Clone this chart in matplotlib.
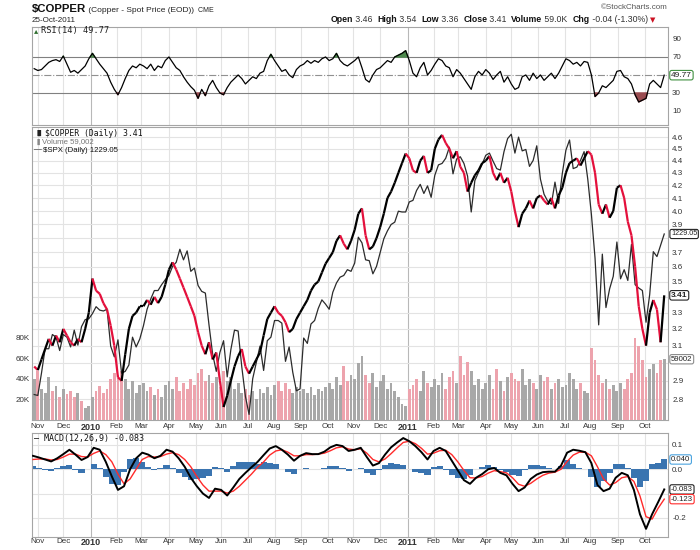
import numpy as np
import pandas as pd
import matplotlib
matplotlib.use('Agg')
import matplotlib.pyplot as plt
import matplotlib.transforms as mtransforms
from matplotlib.collections import LineCollection
from matplotlib.ticker import FixedLocator, FixedFormatter, NullLocator

plt.rcParams['font.family'] = 'Liberation Sans'

# values, one sample every 3rd trading day from 28-Oct-2009
copper = [
    2.98,
    2.96, 3.02, 3.08, 3.14, 3.10, 3.16, 3.12,
    3.20, 3.16, 3.12, 3.10, 3.14, 3.12, 3.20, 3.30,
    3.52, 3.44, 3.42, 3.36, 3.32, 3.22, 3.10,
    2.92, 2.90, 3.05, 3.20, 3.28, 3.30, 3.34,
    3.34, 3.38, 3.35, 3.40, 3.36, 3.40, 3.48,
    3.58, 3.63, 3.58, 3.52, 3.46, 3.40, 3.34, 3.28,
    3.18, 3.10, 3.05, 3.12, 3.02, 3.06, 2.90,
    2.76, 2.82, 2.90, 2.98, 3.04, 3.08, 2.98,
    2.94, 2.98, 3.02, 3.06, 3.16, 3.26, 3.30,
    3.34, 3.30, 3.28, 3.24, 3.18, 3.20, 3.26, 3.30,
    3.34, 3.38, 3.44, 3.48, 3.50, 3.56, 3.62,
    3.66, 3.70, 3.78, 3.82, 3.76, 3.72, 3.78,
    3.86, 3.98, 4.02, 3.82, 3.72, 3.74, 3.80,
    3.88, 3.98, 4.10, 4.15, 4.22, 4.30, 4.38, 4.46,
    4.42, 4.32, 4.30, 4.40, 4.44, 4.30, 4.32,
    4.50, 4.58, 4.62, 4.55, 4.50, 4.42, 4.48,
    4.35, 4.30, 4.15, 4.22, 4.28, 4.32, 4.38,
    4.40, 4.44, 4.30, 4.24, 4.30, 4.22, 4.26,
    4.15, 4.00, 3.88, 3.98, 4.02, 4.08, 4.02, 4.10,
    4.12, 4.08, 4.05, 4.10, 4.02, 4.12, 4.18,
    4.30, 4.38, 4.40, 4.42, 4.36, 4.42, 4.48,
    4.45, 4.30, 4.05, 3.98, 4.05, 3.95, 4.00, 4.18,
    4.20, 4.10, 3.92, 3.82, 3.60, 3.34, 3.20,
    3.10, 3.30, 3.38, 3.32, 3.12, 3.41,
]
spx = [
    1043,
    1042, 1066, 1093, 1093, 1109, 1106, 1091,
    1109, 1106, 1095, 1114, 1097, 1118, 1126, 1127,
    1133, 1141, 1137, 1136, 1138, 1096, 1084,
    1103, 1066, 1068, 1075, 1106, 1095, 1104,
    1119, 1138, 1150, 1160, 1160, 1167, 1173,
    1178, 1189, 1194, 1210, 1197, 1208, 1183, 1187,
    1166, 1159, 1157, 1120, 1087, 1068, 1089,
    1102, 1062, 1092, 1114, 1113, 1073, 1041,
    1022, 1060, 1078, 1096, 1069, 1102, 1106,
    1125, 1125, 1122, 1079, 1095, 1067, 1047, 1049,
    1105, 1099, 1121, 1125, 1139, 1149, 1144,
    1138, 1158, 1169, 1176, 1178, 1185, 1183,
    1193, 1225, 1218, 1197, 1196, 1180, 1189,
    1206, 1223, 1233, 1241, 1244, 1258, 1257, 1257,
    1270, 1272, 1285, 1293, 1281, 1291, 1276,
    1305, 1319, 1321, 1328, 1343, 1307, 1327,
    1330, 1321, 1304, 1257, 1298, 1309, 1320,
    1332, 1335, 1324, 1314, 1312, 1337, 1355,
    1361, 1335, 1357, 1338, 1340, 1317, 1325, 1345,
    1300, 1280, 1271, 1267, 1296, 1268, 1307,
    1339, 1353, 1314, 1316, 1325, 1337, 1300,
    1254, 1199, 1120, 1204, 1140, 1162, 1177, 1219,
    1174, 1185, 1172, 1216, 1167, 1163, 1160,
    1123, 1155, 1207, 1201, 1215, 1229.05,
]
volume_k = [
    40,
    48, 30, 26, 42, 28, 33, 22,
    30, 25, 28, 22, 26, 18, 12, 14,
    22, 28, 33, 26, 30, 40, 46,
    44, 48, 40, 30, 38, 26, 34,
    36, 28, 32, 24, 30, 22, 34,
    38, 30, 42, 28, 36, 30, 40, 34,
    46, 50, 38, 44, 36, 42, 32,
    48, 38, 42, 30, 36, 26, 30,
    24, 28, 20, 30, 26, 32, 24,
    34, 38, 28, 36, 30, 26, 32, 28,
    30, 26, 32, 24, 30, 28, 32,
    36, 30, 42, 34, 52, 38, 44,
    40, 55, 62, 44, 36, 46, 32,
    38, 44, 30, 36, 28, 22, 16, 14,
    30, 34, 40, 28, 48, 36, 32,
    40, 34, 46, 30, 42, 48, 36,
    62, 44, 56, 48, 34, 40, 30,
    36, 44, 30, 50, 38, 28, 42,
    46, 40, 38, 50, 34, 40, 36, 30,
    44, 38, 42, 30, 36, 40, 32,
    34, 46, 40, 30, 36, 28, 26,
    70, 58, 44, 36, 40, 30, 34, 28,
    36, 30, 40, 46, 80, 72, 58,
    42, 50, 54, 46, 58, 59.0,
]
rsi = [
    57,
    55, 56, 60, 64, 66, 67, 65,
    71, 62, 53, 55, 52, 56, 60, 68,
    74, 68, 62, 57, 52, 42, 34,
    28, 36, 46, 55, 60, 58, 62,
    60, 57, 62, 55, 60, 58, 66,
    70, 64, 58, 55, 48, 42, 37, 33,
    24, 34, 27, 38, 44, 36, 30,
    28, 36, 42, 46, 50, 46, 40,
    44, 48, 46, 52, 54, 66, 73,
    66, 60, 54, 56, 50, 47, 56, 60,
    62, 66, 63, 66, 64, 68, 70,
    66, 68, 74, 66, 62, 60, 63,
    66, 70, 58, 45, 42, 50, 56,
    58, 62, 66, 64, 70, 72, 74, 77,
    66, 52, 48, 58, 64, 50, 55,
    62, 68, 66, 60, 58, 48, 56,
    52, 46, 40, 34, 48, 54, 50,
    56, 52, 45, 50, 54, 42, 48,
    40, 34, 36, 48, 50, 44, 52, 46,
    50, 44, 48, 52, 46, 52, 60,
    68, 66, 62, 64, 60, 65, 64,
    50, 26, 30, 38, 36, 40, 44, 54,
    55, 48, 46, 40, 28, 20, 22,
    24, 40, 44, 40, 36, 49.77,
]
# MACD(12,26,9) and its signal line, one sample per week from 27-Oct-2009
macd = [
    .055, .048, .040, .032, .045, .062, .080, .060, .038, .050,
    .088, .080, .030, -.030, -.085, -.070, .000, .045, .068, .060,
    .045, .055, .080, .072, .045, .010, -.035, -.070, -.100, -.118,
    -.080, -.085, -.108, -.075, -.040, -.015, .008, .030, .058, .085,
    .095, .080, .060, .035, .055, .066, .062, .062, .072, .090,
    .100, .095, .075, .080, .088, .050, .015, .025, .060, .090,
    .110, .128, .115, .095, .070, .040, .075, .088, .075, .035,
    -.005, -.045, -.060, -.035, -.020, .000, .005, -.015, -.025, -.060,
    -.090, -.075, -.040, -.022, -.012, -.010, -.010, .015, .068, .080,
    .076, .070, .025, -.065, -.090, -.080, -.035, -.015, -.025, -.085,
    -.185, -.245, -.185, -.135, -.083,
]
signal = [
    .040, .042, .042, .038, .040, .050, .062, .062, .052, .050,
    .065, .075, .060, .030, -.020, -.060, -.040, .000, .040, .052,
    .050, .052, .062, .068, .060, .040, .010, -.030, -.065, -.090,
    -.090, -.090, -.098, -.090, -.070, -.045, -.020, .008, .030, .058,
    .075, .080, .070, .055, .055, .060, .060, .062, .066, .076,
    .088, .092, .083, .080, .084, .066, .040, .030, .042, .064,
    .088, .110, .115, .105, .086, .062, .066, .076, .078, .060,
    .030, -.005, -.035, -.036, -.030, -.016, -.006, -.010, -.015, -.035,
    -.062, -.070, -.058, -.040, -.025, -.016, -.012, .000, .032, .058,
    .070, .070, .055, .010, -.040, -.065, -.055, -.035, -.030, -.050,
    -.110, -.195, -.205, -.160, -.123,
]

dates = pd.bdate_range('2009-10-27', '2011-10-25')
n = len(dates)
pos = np.arange(1, n, 3)
wpos = np.arange(0, n, 5)
copper = np.array(copper)
spx = np.array(spx)
volume_k = np.array(volume_k)
rsi = np.array(rsi)
macd = np.array(macd)
signal = np.array(signal)
hist = macd - signal

month_idx = [k for k in range(1, n) if dates[k].month != dates[k - 1].month]
month_lab = [dates[k].strftime('%Y') if dates[k].month == 1 else dates[k].strftime('%b')
             for k in month_idx]

GRID = '#e3e3e3'
YEAR = '#b8b8b8'
SPINE = '#a5a5a5'
TXT = '#333333'
RED = '#e4103c'

fig = plt.figure(figsize=(7, 5.5), dpi=100)


def rect(top, bottom):
    return [32 / 700, 1 - bottom / 550, 636 / 700, (bottom - top) / 550]


def style(ax):
    for s in ax.spines.values():
        s.set_color(SPINE)
        s.set_linewidth(0.8)
    ax.tick_params(length=0, labelsize=5.8, colors=TXT)
    for k, lab in zip(month_idx, month_lab):
        ax.axvline(k, color=YEAR if lab.isdigit() else GRID, lw=0.8, zorder=0)


def tag(ax, y, s, ec, bold=False, size=6):
    tr = mtransforms.blended_transform_factory(ax.transAxes, ax.transData)
    ax.text(1 + 3 / 636, y, s, transform=tr, ha='left', va='center', fontsize=size,
            color='#222222', fontweight='bold' if bold else 'normal', clip_on=False, zorder=10,
            bbox=dict(boxstyle='round,pad=0.15,rounding_size=0.25', fc='white', ec=ec, lw=0.8))


# ---- RSI panel ----
ax_rsi = fig.add_axes(rect(27, 125))
ax_main = fig.add_axes(rect(127, 420), sharex=ax_rsi)
ax_vol = fig.add_axes(rect(127, 420), sharex=ax_rsi)
ax_spx = fig.add_axes(rect(127, 420), sharex=ax_rsi)
ax_cu = fig.add_axes(rect(127, 420), sharex=ax_rsi)
ax_macd = fig.add_axes(rect(433, 537), sharex=ax_rsi)
ax_main.set_zorder(1)
ax_vol.set_zorder(2)
ax_spx.set_zorder(3)
ax_cu.set_zorder(4)

style(ax_rsi)
ax_rsi.plot(pos, rsi, color='black', lw=0.9, zorder=3)
ax_rsi.axhline(70, color='#808080', lw=0.8, zorder=1)
ax_rsi.axhline(30, color='#808080', lw=0.8, zorder=1)
ax_rsi.axhline(50, color='#909090', lw=0.8, ls='-.', zorder=1)
ax_rsi.fill_between(pos, rsi, 70, where=rsi > 70, interpolate=True, color='#4c8a4c', zorder=2)
ax_rsi.fill_between(pos, rsi, 30, where=rsi < 30, interpolate=True, color='#9a4b50', zorder=2)
ax_rsi.set_ylim(-5.6, 103.3)
ax_rsi.set_xlim(-0.8, 523.1)
ax_rsi.yaxis.tick_right()
ax_rsi.set_yticks([10, 30, 70, 90])
ax_rsi.tick_params(axis='y', pad=3)
ax_rsi.tick_params(axis='x', labelbottom=False)
tag(ax_rsi, rsi[-1], '49.77', '#3f8f3f')

# ---- price panel ----
style(ax_main)
ax_main.set_yscale('log')
ax_main.set_ylim(2.693, 4.69)
pticks = [round(2.8 + 0.1 * k, 1) for k in range(19)]
for t in pticks:
    ax_main.axhline(t, color=GRID, lw=0.8, zorder=0)
# labels hidden under the value tags are left blank
plabels = ['' if t in (3.0, 3.4, 3.8) else f'{t:.1f}' for t in pticks]
ax_main.yaxis.set_major_locator(FixedLocator(pticks))
ax_main.yaxis.set_major_formatter(FixedFormatter(plabels))
ax_main.yaxis.set_minor_locator(NullLocator())
ax_main.yaxis.tick_right()
ax_main.tick_params(axis='y', pad=3)
ax_main.set_xticks(month_idx, labels=month_lab)
ax_main.tick_params(axis='x', pad=2)

vcols = ['#a8a8a8'] + [('#eda3ad' if copper[k] < copper[k - 1] else '#a8a8a8')
                       for k in range(1, len(copper))]
ax_vol.bar(pos, volume_k, width=2.3, color=vcols, linewidth=0)
ax_vol.set_ylim(0, 284.5)
ax_vol.patch.set_visible(False)
for s in ax_vol.spines.values():
    s.set_visible(False)
ax_vol.set_yticks([20, 40, 60, 80], labels=['20K', '40K', '60K', '80K'])
ax_vol.tick_params(length=0, labelsize=5.8, colors=TXT, pad=1.5, labelbottom=False)
tag(ax_vol, volume_k[-1], '59002', '#8c8c8c', size=5.6)

ax_spx.plot(pos, spx, color='#2b2b2b', lw=0.9)
ax_spx.set_yscale('log')
ax_spx.set_ylim(1016.2, 1371.1)
ax_spx.axis('off')
tag(ax_spx, spx[-1], '1229.05', '#222222', size=5.2)

segs = [[(pos[k - 1], copper[k - 1]), (pos[k], copper[k])] for k in range(1, len(copper))]
ccols = [RED if copper[k] < copper[k - 1] else 'black' for k in range(1, len(copper))]
ax_cu.add_collection(LineCollection(segs, colors=ccols, linewidths=1.6))
ax_cu.set_yscale('log')
ax_cu.set_ylim(2.693, 4.69)
ax_cu.axis('off')
tag(ax_cu, copper[-1], '3.41', '#222222', bold=True)

# ---- MACD panel ----
style(ax_macd)
for t in [0.1, 0.0, -0.1, -0.2]:
    ax_macd.axhline(t, color=GRID, lw=0.8, zorder=0)
ax_macd.bar(wpos, hist, width=5, color='#3a74b0', linewidth=0, zorder=2)
ax_macd.plot(wpos, signal, color='#ff2a2a', lw=1.0, zorder=3)
ax_macd.plot(wpos, macd, color='black', lw=1.4, zorder=4)
ax_macd.set_ylim(-0.2785, 0.1488)
ax_macd.yaxis.tick_right()
ax_macd.set_yticks([0.1, 0.0, -0.2], labels=['0.1', '0.0', '-0.2'])
ax_macd.tick_params(axis='y', pad=3)
ax_macd.tick_params(axis='x', pad=1, labelbottom=True)
tag(ax_macd, hist[-1], '0.040', '#4aa3df', size=5.6)
tag(ax_macd, macd[-1], '-0.083', '#222222', size=5.6)
tag(ax_macd, signal[-1], '-0.123', '#ff2a2a', size=5.6)

for ax in (ax_main, ax_macd):
    for tk, lab in zip(ax.xaxis.get_major_ticks(), month_lab):
        if lab.isdigit():
            tk.label1.set_fontweight('bold')
            tk.label1.set_fontsize(6.5)

# ---- texts ----
def fxy(x, y):
    return x / 700, 1 - y / 550


def chain(pieces, x, y, ha_first='left'):
    txt, kw = pieces[0]
    prev = fig.text(*fxy(x, y), txt, va='bottom', ha=ha_first, **kw)
    for txt, kw in pieces[1:]:
        prev = ax_rsi.annotate(txt, xy=(1, 0), xycoords=prev, va='bottom', ha='left',
                               annotation_clip=False, **kw)
    return prev


chain([('$COPPER', dict(fontsize=8.2, fontweight='bold', color='#111111')),
       (' (Copper - Spot Price (EOD))', dict(fontsize=6.0, color='#222222')),
       ('  CME', dict(fontsize=5.0, color='#222222'))], 32, 14)
fig.text(*fxy(32, 20.5), '25-Oct-2011', fontsize=5.8, color='#222222', va='center')
fig.text(*fxy(668, 7.5), '\u00a9StockCharts.com', fontsize=5.8, color='#555555',
         va='center', ha='right')

B = dict(fontsize=6.3, fontweight='bold', color='#111111')
N = dict(fontsize=6.3, color='#333333')
chain([('Open', B), (' 3.46  ', N), ('High', B), (' 3.54  ', N), ('Low', B), (' 3.36  ', N),
       ('Close', B), (' 3.41  ', N), ('Volume', B), (' 59.0K  ', N), ('Chg', B),
       (' -0.04 (-1.30%) ', N),
       ('\u25bc', dict(fontsize=5, color='#cc1122', family='DejaVu Sans'))], 331, 23.5)

MONO = dict(family='DejaVu Sans Mono', va='center')
fig.text(*fxy(34, 31), '\u25b4', fontsize=6, color='#2f6f2f', va='center',
         family=['DejaVu Sans'])
fig.text(*fxy(41, 31), 'RSI(14) 49.77', fontsize=6.2, color='#222222', **MONO)

fig.text(*fxy(35, 133), '\u2590\u258c', fontsize=4.5, color='#222222', va='center',
         family=['DejaVu Sans'])
fig.text(*fxy(45, 133), '$COPPER (Daily) 3.41', fontsize=5.9, color='#111111', **MONO)
fig.text(*fxy(35, 141.5), '\u2590', fontsize=4.5, color='#888888', va='center',
         family=['DejaVu Sans'])
fig.text(*fxy(42, 141.5), 'Volume 59,002', fontsize=5.6, color='#777777', va='center')
fig.text(*fxy(34, 150), '\u2014', fontsize=5.6, color='#111111', va='center')
fig.text(*fxy(43, 150), '$SPX (Daily) 1229.05', fontsize=5.6, color='#111111', va='center')

chain([('\u2014 MACD(12,26,9) -0.083', dict(fontsize=6.0, color='#111111',
                                           family='DejaVu Sans Mono')),
       (', -0.123', dict(fontsize=6.0, color='#ff2a2a', family='DejaVu Sans Mono')),
       (', 0.040', dict(fontsize=6.0, color='#4aa3df', family='DejaVu Sans Mono'))], 34, 443.5)

fig.savefig('out.png', dpi=100)
